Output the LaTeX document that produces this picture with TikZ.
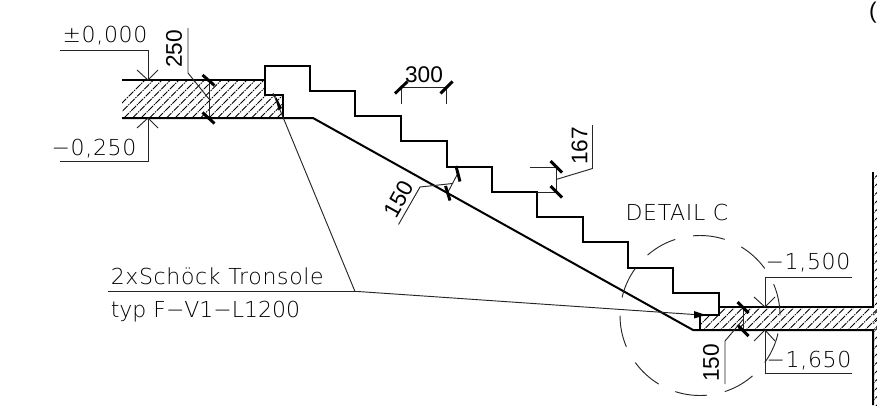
\documentclass[tikz,border=0pt]{standalone}
\usepackage{fontspec}
\setmainfont{Liberation Sans}
\newfontfamily\cadfont[LetterSpace=3]{DejaVu Sans ExtraLight}
\usetikzlibrary{positioning}
\tikzset{
    contour/.style={line width=1.5pt, black},
    thinline/.style={line width=0.7pt, black!85},
    tick/.style={line width=2.2pt, black},
    hatchline/.style={line width=0.6pt, dash pattern=on 5pt off 0.8pt on 1pt off 0.8pt},
    levellabel/.style={font=\cadfont\fontsize{16.5}{20}\selectfont, inner sep=0pt, text=black},
    dimlabel/.style={font=\fontsize{17}{20}\selectfont, inner sep=0pt}
}
\begin{document}
\begin{tikzpicture}[x=0.75pt,y=-0.75pt]
    \useasboundingbox (0,0) rectangle (877,414);
    % hatching of the slabs
    \begin{scope}
        \clip (122,80) -- (265,80) -- (265,95) -- (283,95) -- (283,118) -- (122,118) -- cycle;
        \foreach \i in {0,8.5,...,210}
            \draw[hatchline] (100+\i,125) -- (100+\i+50,75);
    \end{scope}
    \begin{scope}
        \clip (700,315) -- (719,315) -- (719,307) -- (877,307) -- (877,330) -- (700,330) -- cycle;
        \foreach \i in {0,8.5,...,200}
            \draw[hatchline] (690+\i,335) -- (690+\i+30,305);
    \end{scope}
    \begin{scope}
        \clip (873,172) rectangle (877,405);
        \foreach \i in {0,8.5,...,240}
            \draw[hatchline] (868,176+\i) -- (880,164+\i);
    \end{scope}
    % stairs and slabs
    \draw[contour] (122,80) -- (265,80);
    \draw[contour] (122,118) -- (313,118) -- (693,330) -- (873,330) -- (873,405);
    \draw[contour] (265,80) -- (265,66) -- (310,66) -- (310,91) -- (355,91) -- (355,116)
        -- (401,116) -- (401,141) -- (446.5,141) -- (446.5,167) -- (492,167) -- (492,192)
        -- (537,192) -- (537,217) -- (582.5,217) -- (582.5,242) -- (628,242) -- (628,267.5)
        -- (673,267.5) -- (673,293) -- (719,293) -- (719,315) -- (700,315) -- (700,330);
    \draw[contour] (265,80) -- (265,95) -- (283,95) -- (283,118);
    \draw[contour] (719,307) -- (873,307) -- (873,172);
    % detail circle
    \draw[thinline, dash pattern=on 24.08pt off 13.62pt, dash phase=24.08pt] (700,315.5) circle [radius=80];
    % levels
    \draw[thinline] (60,50) -- (148,50) -- (148,80);
    \draw[thinline] (137,70) -- (148,80) -- (158,70);
    \draw[thinline] (60,161) -- (148,161) -- (148,118);
    \draw[thinline] (137,128) -- (148,118) -- (158,128);
    \draw[thinline] (852,277) -- (765,277) -- (765,307);
    \draw[thinline] (754,297) -- (765,307) -- (775,297);
    \draw[thinline] (852,373) -- (765,373) -- (765,330);
    \draw[thinline] (754,341) -- (765,330) -- (775,341);
    \node[levellabel] (level0) at (105,36) {±0,000};
    \node[levellabel] (level1) at (94,149) {−0,250};
    \node[levellabel] (level2) at (808,262.5) {−1,500};
    \node[levellabel] (level3) at (809,360.5) {−1,650};
    % slab 250
    \draw[thinline] (209,80) -- (209,118);
    \draw[tick] (202.5,75) -- (214.5,85.5);
    \draw[tick] (202.5,112.5) -- (214.5,123.5);
    \draw[thinline] (188,28) -- (188,73) -- (209,99);
    \node[dimlabel, rotate=90] (dimslab) at (174,49) {250};
    % tread 300
    \draw[thinline] (401,87.5) -- (446.5,87.5);
    \draw[thinline] (401,87.5) -- (401,104);
    \draw[thinline] (446.5,87.5) -- (446.5,104);
    \draw[tick] (395,93.5) -- (407.5,81.5);
    \draw[tick] (440.5,93.5) -- (452.5,81.5);
    \node[dimlabel] (dimtread) at (424,75) {300};
    % riser 167
    \draw[thinline] (529.5,167) -- (556,167) -- (556,192) -- (537,192);
    \draw[tick] (550.5,161) -- (562,172.5);
    \draw[tick] (550.5,186) -- (562,197.5);
    \draw[thinline] (592.5,125) -- (592.5,168.5) -- (556,179.5);
    \node[dimlabel, rotate=90] (dimriser) at (579.5,146) {167};
    % flight 150
    \draw[thinline] (458,173) -- (447.5,193);
    \draw[tick] (456,166) -- (460,181.5);
    \draw[tick] (445.5,186) -- (450,200.5);
    \draw[thinline] (398.5,224.5) -- (420,187) -- (452.5,183.5);
    \node[dimlabel, rotate=61] (dimflight) at (398.5,199.5) {150};
    % landing 150
    \draw[thinline] (743.5,307) -- (743.5,330);
    \draw[tick] (737.5,302) -- (748.5,313);
    \draw[tick] (737.5,325) -- (748.5,336);
    \draw[thinline] (725,384) -- (725,341) -- (743.5,319);
    \node[dimlabel, rotate=90] (dimland) at (711,363) {150};
    % Tronsole leader
    \draw[thinline] (108,291.5) -- (358,291.5) -- (694,314.5);
    \draw[thinline] (355,291.5) -- (273,93);
    \fill (694,311) -- (706,315) -- (694,318.5) -- cycle;
    \fill (275,95) -- (282,108) -- (278.5,110.5) -- cycle;
    \node[levellabel, anchor=west] (tronsole) at (110.5,276.5) {2xSchöck Tronsole};
    \node[levellabel, anchor=west] (tronsoletyp) at (110.5,311.5) {\addfontfeature{LetterSpace=0}typ F−V1−L1200};
    \node[levellabel] (detail) at (677,212.5) {DETAIL C};
    \node[dimlabel, anchor=east] (cutoff) at (877,13) {(};
\end{tikzpicture}
\end{document}
